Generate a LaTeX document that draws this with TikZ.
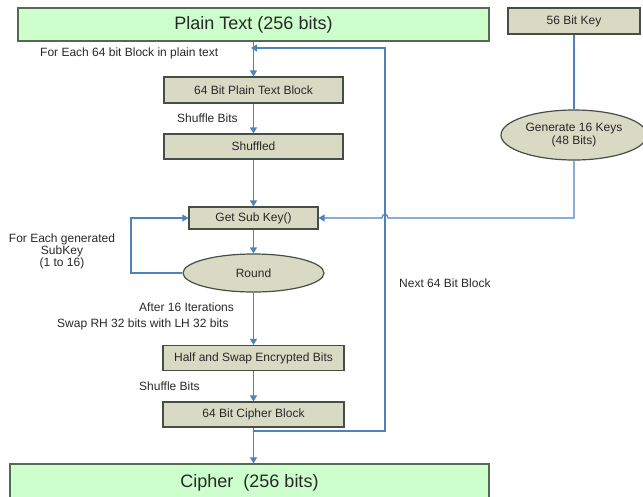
\documentclass[tikz,border=0pt]{standalone}
\usepackage{fontspec}
\setmainfont{Liberation Sans}
\usetikzlibrary{arrows.meta,shapes.geometric}
\definecolor{boxfill}{RGB}{216,218,196}
\definecolor{boxline}{RGB}{70,78,70}
\definecolor{greenfill}{RGB}{204,255,204}
\definecolor{greenline}{RGB}{85,105,85}
\definecolor{conn}{RGB}{79,129,189}
\definecolor{txt}{RGB}{40,40,40}
\begin{document}
\begin{tikzpicture}[x=1pt,y=-1pt,
  every node/.style={text=txt,font=\fontsize{12}{11}\selectfont,inner sep=0pt},
  graybox/.style={draw=boxline,fill=boxfill,line width=1.2pt},
  greenbox/.style={draw=greenline,fill=greenfill,line width=1.2pt,font=\fontsize{18}{20}\selectfont},
  grayell/.style={ellipse,draw=boxline,fill=boxfill,line width=1.2pt},
  lbl/.style={anchor=west},
  wire/.style={draw=conn,line width=1.2pt},
  arr/.style={wire,-{Triangle[width=7pt,length=6pt]}}]
\useasboundingbox (0,0) rectangle (643,496);
% nodes
\node[greenbox,minimum width=471pt,minimum height=33pt] (pt) at (253.5,24.5) {Plain Text (256 bits)};
\node[graybox,minimum width=132pt,minimum height=26pt] (key) at (574,21) {56 Bit Key};
\node[graybox,minimum width=179pt,minimum height=26pt] (ptb) at (253.5,90) {64 Bit Plain Text Block};
\node[graybox,minimum width=179pt,minimum height=25pt] (shf) at (253.5,146.5) {Shuffled};
\node[graybox,minimum width=129pt,minimum height=22pt] (gsk) at (253.5,218) {Get Sub Key()};
\node[grayell,minimum width=141pt,minimum height=38pt] (rnd) at (253.5,273) {Round};
\node[graybox,minimum width=181pt,minimum height=25pt] (hs) at (253.5,358) {Half and Swap Encrypted Bits};
\node[graybox,minimum width=181pt,minimum height=25pt] (cb) at (253.5,414.5) {64 Bit Cipher Block};
\node[greenbox,minimum width=479pt,minimum height=38pt] (ci) at (249.5,483) {Cipher\ \ (256 bits)};
\node[grayell,minimum width=146pt,minimum height=50pt,align=center] (gen) at (574,135) {Generate 16 Keys\\[1pt](48 Bits)};
% labels
\node[lbl] (l1) at (40,53) {For Each 64 bit Block in plain text};
\node[lbl] (l2) at (177,118) {Shuffle Bits};
\node[align=center] (l3) at (62,251.5) {For Each generated\\SubKey\\(1 to 16)};
\node[lbl] (l4) at (399,283) {Next 64 Bit Block};
\node[lbl] (l5) at (139,307) {After 16 Iterations};
\node[lbl] (l6) at (57,324) {Swap RH 32 bits with LH 32 bits};
\node[lbl] (l7) at (139,386) {Shuffle Bits};
% coordinates
\coordinate (rs) at (253.5,431);
\coordinate (rc) at (385,431);
\coordinate (rt) at (385,48);
\coordinate (re) at (251,48);
\coordinate (lp1) at (131,273);
\coordinate (lp2) at (131,218);
\coordinate (kc) at (574,218);
\coordinate (h1) at (388,218);
\coordinate (h2) at (382,218);
% connectors
\draw[arr] (ptb.north |- pt.south) -- (ptb.north);
\draw[arr] (ptb.south) -- (shf.north);
\draw[arr] (shf.south) -- (gsk.north);
\draw[arr] (gsk.south) -- (rnd.north);
\draw[arr] (rnd.south) -- (hs.north);
\draw[arr] (hs.south) -- (cb.north);
\draw[arr] (cb.south) -- (cb.south |- ci.north);
\draw[arr] (rs) -- (rc) -- (rt) -- (re);
\draw[arr] (rnd.west) -- (lp1) -- (lp2) -- (gsk.west);
\draw[wire] (key.south) -- (gen.north);
\draw[arr] (gen.south) -- (kc) -- (h1) .. controls (388,213) and (382,213) .. (h2) -- (gsk.east);
\end{tikzpicture}
\end{document}
